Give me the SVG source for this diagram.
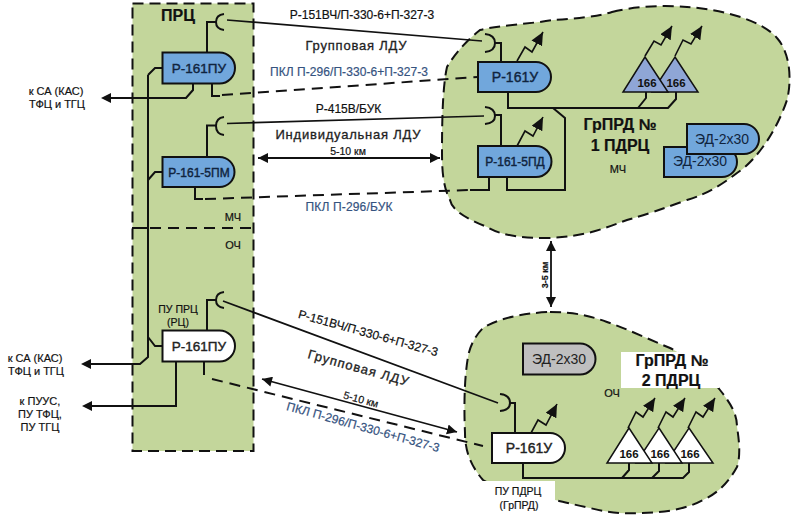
<svg xmlns="http://www.w3.org/2000/svg" width="792" height="515" viewBox="0 0 792 515">
<style>
text{font-family:"Liberation Sans",Arial,sans-serif;fill:#111;font-size:11px;text-anchor:middle;stroke:#111;stroke-width:.2}
.zone{fill:#c3d69b;stroke:#111;stroke-width:2;stroke-dasharray:11 6}
.w{fill:none;stroke:#111;stroke-width:2}
.t{fill:none;stroke:#111;stroke-width:1.7}
.d{fill:none;stroke:#111;stroke-width:2;stroke-dasharray:11 7}
.n{stroke:#111;stroke-width:2}
.blue{fill:#71a7dc}
.white{fill:#fff}
.grey{fill:#bfbfbf}
.tri{fill:#8fa6d6;stroke:#111;stroke-width:1.5}
.triw{fill:#fff;stroke:#111;stroke-width:1.5}
.nt{font-size:13.500px;fill:#10243e;stroke:#10243e;stroke-width:.4}
.nk{font-size:13.500px;fill:#222;stroke:#222;stroke-width:.4}
.ed{font-size:14px;fill:#10243e;stroke-width:0}
.b{font-size:16px;font-weight:bold}
.pkl{fill:#35537f;stroke:#35537f;font-size:12px}
.lb{font-size:13px;fill:#222;stroke:#222;stroke-width:.3}
.s{font-size:12px}
.k{font-size:10.500px}
.tn{font-size:11.500px;font-weight:bold;stroke-width:0}
.ant{fill:none;stroke:#111;stroke-width:1.6;marker-end:url(#ah)}
.arr{fill:none;stroke:#111;stroke-width:1.8;marker-end:url(#ar);marker-start:url(#as)}
</style>
<defs>
<marker id="ah" markerUnits="userSpaceOnUse" markerWidth="16" markerHeight="14" refX="13" refY="6" orient="auto"><path d="M0 0L13 6L0 12z" fill="#111"/></marker>
<marker id="ar" markerUnits="userSpaceOnUse" markerWidth="12" markerHeight="12" refX="10" refY="5" orient="auto"><path d="M0 0L10 5L0 10z" fill="#111"/></marker>
<marker id="as" markerUnits="userSpaceOnUse" markerWidth="12" markerHeight="12" refX="0" refY="5" orient="auto"><path d="M10 0L0 5L10 10z" fill="#111"/></marker>
</defs>

<g id="zone-prc">
<rect class="zone" x="132.500" y="3.500" width="121" height="447.500"/>
<path class="d" d="M132 228H254"/>
<text class="b" x="178" y="20.500">ПРЦ</text>
<text x="233" y="221">МЧ</text>
<text x="233" y="249">ОЧ</text>
</g>
<g id="zone-grprd1">
<path class="zone" d="M612 12C635 6 665 5 687 7C720 9 762 20 777 38C792 55 791 85 787 100C777 130 757 160 737 173C715 190 700 196 687 200C665 208 645 215 627 220C605 228 585 237 547 238C520 238 500 235 487 227C465 218 452 210 450 200C442 185 442 165 442 150C442 115 443 85 447 67C457 50 470 38 480 30C500 25 530 24 553 20C575 19 600 16 612 12Z"/>
<text class="b" x="620" y="130">ГрПРД №</text>
<text class="b" x="620" y="151">1 ПДРЦ</text>
<text x="618" y="173">МЧ</text>
</g>
<g id="zone-grprd2">
<path class="zone" d="M550 312C575 312 590 316 607 322C630 330 650 340 670 348C690 358 708 375 720 390C732 405 737 415 737 427C740 445 740 458 737 467C728 483 718 493 703 500C685 510 660 513 640 513C620 514 605 512 590 508C575 505 565 502 555 500C530 495 500 490 483 480C470 465 465 450 465 433C464 410 464 380 468 357C470 345 476 335 483 328C495 320 520 313 550 312Z"/>
</g>

<g id="connectors">
<path class="w" d="M148 75V357L140 364H84"/>
<path class="w" d="M162 68H155L148 75"/>
<path class="w" d="M162 172H155L148 180"/>
<path class="w" d="M162 346H155L148 337"/>
<path class="w" d="M132 228H148"/>
<path class="w" d="M193 83V90L186 98H103"/>
<path class="w" d="M176 361V406H84"/>
<path class="t" d="M227 20L482 41"/>
<path class="t" d="M227 123.500L484 116"/>
<path class="t" d="M223 301L498 403"/>
<path class="w" d="M212 83V96H220"/>
<path class="d" d="M222 95L478 77"/>
<path class="w" d="M195 187V199H203"/>
<path class="d" d="M205 199L470 190"/>
<path class="w" d="M470 190H489V177"/>
<path class="w" d="M204 362V375"/>
<path class="d" d="M212 379L483 446"/>
<path class="w" d="M207 52V22H216M501 61V43H495M207 157V125.500H216M501 146V115H495M207 330V300H216M515 433V403H510"/>
<path class="w" d="M508 92V108H668L676 99V92M646 92V98L638 108M553 108L565 118V190H507V177"/>
<path class="w" d="M523 463V478H683L689 472V463M629 463V470L622 478M659 463V471L652 478"/>
<path class="arr" d="M258 158H440"/>
<path class="arr" d="M262 379L457 432"/>
<path class="arr" d="M551 241V307"/>
<path d="M101 98L111 93V103z" fill="#111"/>
<path d="M81 364L91 359V369z" fill="#111"/>
<path d="M82 406L92 401V411z" fill="#111"/>
<path class="ant" d="M517 61L525 47L532 52L543 32"/>
<path class="ant" d="M517 146L525 131L533 136L543 117"/>
<path class="ant" d="M645 56L654 41L661 45L672 26"/>
<path class="ant" d="M675 56L683 40L691 44L702 26"/>
<path class="ant" d="M531 433L538 420L546 425L557 404"/>
<path class="ant" d="M628 428L636 412L643 417L655 398"/>
<path class="ant" d="M658 428L666 412L673 417L685 398"/>
<path class="ant" d="M688 428L696 412L703 417L715 398"/>
<path class="w" d="M224 14Q216 15 216 22Q216 29 224 30M224 117Q216 118 216 126Q216 134 224 135M224 292Q216 293 216 300Q216 307 224 308M485 34Q495 35 495 43Q495 51 485 52M485 107Q495 108 495 116Q495 123 485 124M500 394Q510 395 510 403Q510 410 500 411"/>
</g>

<g id="node-r161pu-top"><path class="n blue" d="M162.500 52.500H219.500A15.500 15.500 0 0 1 219.500 83.500H162.500Z"/><text class="nt" x="199" y="72.500">Р-161ПУ</text></g>
<g id="node-r1615pm"><path class="n blue" d="M162.500 157H219.500A15 15 0 0 1 219.500 187H162.500Z"/><text class="nt" x="199" y="176.500" style="font-size:12px">Р-161-5ПМ</text></g>
<g id="node-r161pu-bot"><path class="n white" d="M162.500 330.500H219.500A15.500 15.500 0 0 1 219.500 361.500H162.500Z"/><text class="nk" x="199" y="350.500">Р-161ПУ</text></g>
<g id="node-r161u-top"><path class="n blue" d="M478 62H536A15 15 0 0 1 536 92H478Z"/><text class="nt" x="515" y="82" style="font-size:14px">Р-161У</text></g>
<g id="node-r1615pd"><path class="n blue" d="M478 146H536A15.500 15.500 0 0 1 536 177H478Z"/><text class="nt" x="515" y="165.500" style="font-size:12px">Р-161-5ПД</text></g>
<g id="node-ed1"><path class="n blue" d="M664 147H722A15 15 0 0 1 722 177H664Z"/><text class="ed" x="700" y="166">ЭД-2х30</text></g>
<g id="node-ed2"><path class="n blue" d="M687 124H744A15 15 0 0 1 744 154H687Z"/><text class="ed" x="722" y="144">ЭД-2х30</text></g>
<g id="node-t166-2"><path class="tri" d="M675 57L698 92H652Z"/><text class="tn" x="676" y="87">166</text></g>
<g id="node-t166-1"><path class="tri" d="M645 57L668 92H623Z"/><text class="tn" x="647" y="87">166</text></g>
<g id="node-ed3"><path class="n grey" d="M523 343.500H580A15.500 15.500 0 0 1 580 374.500H523Z"/><text class="ed" x="559" y="363.500" style="fill:#222">ЭД-2х30</text></g>
<g id="node-r161u-bot"><path class="n white" d="M492 433H550A15 15 0 0 1 550 463H492Z"/><text class="nk" x="529" y="453" style="font-size:14px">Р-161У</text></g>
<g id="node-t166-w3"><path class="triw" d="M689 428L713 463H666Z"/><text class="tn" x="690" y="458">166</text></g>
<g id="node-t166-w2"><path class="triw" d="M659 428L682 463H636Z"/><text class="tn" x="660" y="458">166</text></g>
<g id="node-t166-w1"><path class="triw" d="M629 428L652 463H607Z"/><text class="tn" x="629" y="458">166</text></g>

<g id="labels">
<rect x="621" y="352" width="98" height="36" fill="#fff"/>
<text class="b" x="672" y="365.500">ГрПРД №</text>
<text class="b" x="671" y="386">2 ПДРЦ</text>
<text x="612" y="397">ОЧ</text>
<rect x="483" y="481" width="72" height="31" fill="#fff"/>
<text x="518" y="495" class="k">ПУ ПДРЦ</text>
<text x="519" y="509" class="k">(ГрПРД)</text>
<text x="178" y="313" class="k">ПУ ПРЦ</text>
<text x="178" y="326" class="k">(РЦ)</text>
<text x="56" y="95">к СА (КАС)</text>
<text x="57" y="108">ТФЦ и ТГЦ</text>
<text x="35" y="362">к СА (КАС)</text>
<text x="36" y="375">ТФЦ и ТГЦ</text>
<text x="40" y="405">к ПУУС,</text>
<text x="40" y="418">ПУ ТФЦ,</text>
<text x="40" y="431">ПУ ТГЦ</text>
<text class="s" x="362" y="19">Р-151ВЧ/П-330-6+П-327-3</text>
<text class="lb" x="356" y="50" textLength="101">Групповая ЛДУ</text>
<text class="pkl" x="349" y="76" textLength="158">ПКЛ П-296/П-330-6+П-327-3</text>
<text class="s" x="348.500" y="113">Р-415В/БУК</text>
<text class="lb" x="348" y="139" textLength="145">Индивидуальная ЛДУ</text>
<text class="k" x="348" y="155">5-10 км</text>
<text class="pkl" x="349" y="211" textLength="87">ПКЛ П-296/БУК</text>
<text class="s" transform="translate(367 337) rotate(15.500)">Р-151ВЧ/П-330-6+П-327-3</text>
<text class="lb" transform="translate(357 372) rotate(15.500)" textLength="104">Групповая ЛДУ</text>
<text class="k" transform="translate(360 403) rotate(15.500)">5-10 км</text>
<text class="pkl" transform="translate(362 431) rotate(15.500)" textLength="158">ПКЛ П-296/П-330-6+П-327-3</text>
<text style="font-size:9px;font-weight:bold" transform="translate(548 275) rotate(-90)">3-5 км</text>
</g>
</svg>
